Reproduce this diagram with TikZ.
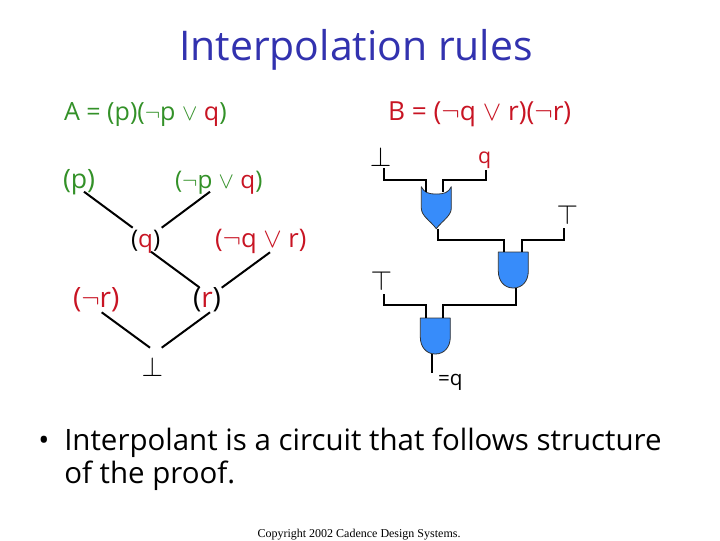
\documentclass[tikz,border=0pt]{standalone}
\usepackage{fontspec}
\setmainfont{Open Sans}
\newfontfamily\crfont{Liberation Serif}
\definecolor{grn}{RGB}{51,145,40}
\definecolor{rd}{RGB}{200,20,35}
\definecolor{ttl}{RGB}{50,50,175}
\definecolor{gateblue}{RGB}{55,140,250}
\newcommand{\rd}[1]{\textcolor{rd}{#1}}
\newcommand{\fs}[1]{\fontsize{#1}{#1}\selectfont}
\tikzset{
  x=0.75pt,y=-0.75pt,
  lbl/.style={anchor=base west,inner sep=0pt,outer sep=0pt,font=\fs{18.2}},
  sym/.style={inner sep=0pt,outer sep=0pt,font=\fs{21}},
  proofline/.style={line width=1.5pt,black},
  wire/.style={line width=1.5pt,black},
  gatebox/.style={inner sep=0pt,outer sep=0pt,minimum width=22.5pt,minimum height=#1},
  gateshape/.style={fill=gateblue,draw=black!80,line width=0.6pt,line join=round},
}
\begin{document}
\begin{tikzpicture}
\path[use as bounding box,fill=white] (0,0) rectangle (720,540);
% title
\node[anchor=base,inner sep=0pt,text=ttl,font=\fs{30.7}] (title) at (356,60) {Interpolation rules};
% clause lines
\node[lbl,text=grn,font=\fs{18.8}] (A) at (64,120) {A = (p)($\neg$p $\vee$ \rd{q})};
\node[lbl,text=rd,font=\fs{19.7}] (B) at (388,120) {B = ($\neg$q $\vee$ r)($\neg$r)};
% proof tree
\node[lbl,text=grn,font=\fs{20}] (p1) at (63,188) {(p)};
\node[lbl,text=grn] (p2) at (175,188) {($\neg$p $\vee$ \rd{q})};
\node[lbl] (q0) at (131,247) {(\rd{q})};
\node[lbl,text=rd,font=\fs{19.2}] (q1) at (215,247) {($\neg$q $\vee$ r)};
\node[lbl,text=rd,font=\fs{21}] (r1) at (73,307) {($\neg$r)};
\node[lbl,font=\fs{21}] (r0) at (193,307) {(\rd{r})};
\node[sym] (bt) at (152.3,367) {$\bot$};
\draw[proofline] ([shift={(21,3.7)}]p1.base west) -- ([shift={(1.7,-19.3)}]q0.base west);
\draw[proofline] ([shift={(35,3.7)}]p2.base west) -- ([shift={(30.7,-19.3)}]q0.base west);
\draw[proofline] ([shift={(20,4.7)}]q0.base west) -- ([shift={(6.3,-19.7)}]r0.base west);
\draw[proofline] ([shift={(55,5.3)}]q1.base west) -- ([shift={(28.7,-19.3)}]r0.base west);
\draw[proofline] ([shift={(28.7,5.3)}]r1.base west) -- ([shift={(-2.3,-19.3)}]bt.center);
\draw[proofline] ([shift={(17,5.3)}]r0.base west) -- ([shift={(9.4,-19.3)}]bt.center);
% circuit labels
\node[sym] (f) at (380.7,157) {$\bot$};
\node[lbl,text=rd,font=\fs{16}] (qin) at (478,163) {q};
\node[sym] (t1) at (567.3,215) {$\top$};
\node[sym] (t2) at (381.3,281) {$\top$};
\node[lbl,font=\fs{15.5}] (res) at (438,385) {=q};
% gates
\node[gatebox=31.5pt] (org) at (436.3,207.7) {};
\node[gatebox=27pt] (and1) at (513.3,270) {};
\node[gatebox=27pt] (and2) at (435.3,336) {};
% gate shapes
\draw[gateshape] (org.north west) .. controls +(3,6) and +(-8,0) .. ([shift={(0,7.3)}]org.north)
  .. controls +(8,0) and +(-3,6) .. (org.north east)
  -- ([shift={(0,21.3)}]org.north east) .. controls +(0,8) and +(6,-8) .. (org.south)
  .. controls +(-6,-8) and +(0,8) .. ([shift={(0,21.3)}]org.north west) -- cycle;
\foreach \g in {and1,and2}{
  \draw[gateshape] (\g.north west) -- (\g.north east) -- ([shift={(0,19)}]\g.north east)
    .. controls +(0,10) and +(9,0) .. (\g.south)
    .. controls +(-9,0) and +(0,10) .. ([shift={(0,19)}]\g.north west) -- cycle;
}
% wires
\draw[wire] ([shift={(3.3,11)}]f.center) |- (403,180) -| ([shift={(-10.3,5)}]org.north);
\draw[wire] ([shift={(8,7)}]qin.base west) |- (460,180) -| ([shift={(7,5)}]org.north);
\draw[wire] ([shift={(1.4,0)}]org.south) |- (470,239.7) -| ([shift={(-9.3,0)}]and1.north);
\draw[wire] ([shift={(-3.6,13.3)}]t1.center) |- (540,239.7) -| ([shift={(8.7,0)}]and1.north);
\draw[wire] ([shift={(2.7,0)}]and1.south) |- (480,305.3) -| ([shift={(8,0)}]and2.north);
\draw[wire] ([shift={(2.7,13)}]t2.center) |- (405,305.3) -| ([shift={(-9.3,0)}]and2.north);
\coordinate (outEnd) at (432,372.7);
\draw[wire] ([shift={(-3.3,0)}]and2.south) -- (outEnd);
% text
\node[anchor=base west,inner sep=0pt,font=\fs{22.1}] (bul) at (38,450) {•};
\node[anchor=base west,inner sep=0pt,font=\fs{22.1}] (l1) at (64,450) {Interpolant is a circuit that follows structure};
\node[anchor=base west,inner sep=0pt,font=\fs{22.1}] (l2) at (64,483) {of the proof.};
\node[anchor=base,inner sep=0pt,font=\crfont\fs{9}] (cr) at (359,537) {Copyright 2002 Cadence Design Systems.};
\end{tikzpicture}
\end{document}
